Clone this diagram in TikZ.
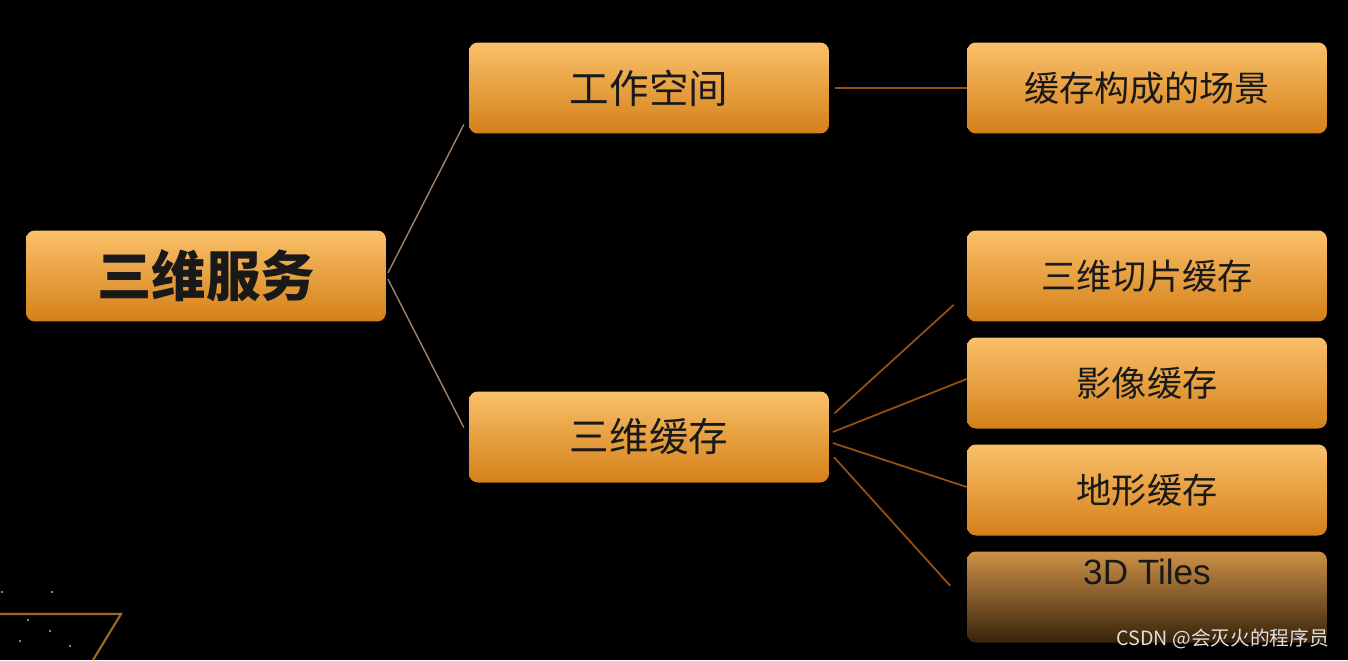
\documentclass[tikz,border=0pt]{standalone}
\usepackage{fontspec}
\setmainfont{Liberation Sans}
\newfontfamily\cjk{Noto Sans CJK SC}
\definecolor{cajatop}{RGB}{250, 192, 105}
\definecolor{cajamed}{RGB}{246, 162, 38}
\definecolor{cajabot}{RGB}{212, 128, 25}
\definecolor{tiletop}{RGB}{205, 145, 72}
\definecolor{tilemed}{RGB}{150, 95, 35}
\definecolor{tilebot}{RGB}{55, 35, 10}
\definecolor{lineagris}{RGB}{160, 130, 105}
\definecolor{lineamar}{RGB}{150, 80, 20}
\definecolor{oro}{RGB}{160, 105, 35}
\usepackage{tikz}
\usetikzlibrary{positioning}

\begin{document}
\begin{tikzpicture}[x=0.02cm, y=-0.02cm,
    caja/.style={rounded corners=5pt, minimum width=7.2cm, minimum height=1.82cm,
      inner sep=0pt, top color=cajatop, middle color=cajamed, bottom color=cajabot,
      text=black!90, font=\cjk\fontsize{20}{24}\selectfont},
    tile/.style={caja, top color=tiletop, middle color=tilemed, bottom color=tilebot},
    ramagris/.style={lineagris, line width=0.8pt},
    rama/.style={lineamar, line width=1pt}]
        \fill[black] (0,0) rectangle (1348,660);
        \useasboundingbox (0,0) rectangle (1348,660);
        % decoracion
        \draw[oro, line width=1.2pt] (0,614) -- (121,614) -- (93,660);
        \foreach \p in {(2,592),(52,592),(20,641),(70,646),(50,631),(28,620)}
          \fill[gray!60] \p circle (1.2);
        % cajas
        \node[caja, font=\cjk\bfseries\fontsize{31}{36}\selectfont] (raiz) at (206,276) {三维服务};
        \node[caja, font=\cjk\fontsize{22.5}{26}\selectfont] (espacio) at (649,88) {工作空间};
        \node[caja, font=\cjk\fontsize{22.5}{26}\selectfont] (cache) at (649,437) {三维缓存};
        \node[caja] (escena) at (1147,88) {缓存构成的场景};
        \node[caja] (corte) at (1147,276) {三维切片缓存};
        \node[caja] (imagen) at (1147,383) {影像缓存};
        \node[caja] (terreno) at (1147,490) {地形缓存};
        \node[tile, font=\fontsize{20}{24}\selectfont, text height=0.66cm, text depth=1.16cm] (tiles) at (1147,597) {3D Tiles};
        % ramas
        \draw[ramagris, shorten <=2pt, shorten >=6pt] (raiz.east) -- ([yshift=-0.54cm]espacio.west);
        \draw[ramagris, shorten <=2pt, shorten >=6pt] (raiz.east) -- (cache.west);
        \draw[rama, shorten <=3pt] (espacio.east) -- (escena.west);
        \draw[rama, shorten <=4pt, shorten >=10pt] ([yshift=0.38cm]cache.east) -- ([yshift=-0.34cm]corte.west);
        \draw[rama] ([xshift=2pt, yshift=0.1cm]cache.east) -- ([yshift=0.08cm]imagen.west);
        \draw[rama] ([xshift=2pt, yshift=-0.12cm]cache.east) -- ([yshift=0.06cm]terreno.west);
        \draw[rama, shorten <=4pt, shorten >=14pt] ([yshift=-0.3cm]cache.east) -- ([yshift=-0.14cm]tiles.west);
        \node[anchor=south east, text=gray!25, font=\cjk\fontsize{11.2}{13}\selectfont] (marca) at (1335,655) {CSDN @会灭火的程序员};
      \end{tikzpicture}
\end{document}
